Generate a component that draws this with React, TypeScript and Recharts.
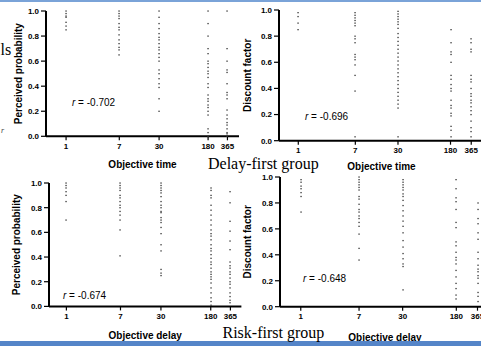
import { ScatterChart, Scatter, XAxis, YAxis, Label } from "recharts"

// objective time / delay in days
const days = [1, 7, 30, 180, 365]
const yTicks = [0, 0.2, 0.4, 0.6, 0.8, 1.0]

// delay-first group, perceived probability (one list per day)
const delayFirstProb = [
    [1.0, 0.98, 0.96, 0.95, 0.91, 0.88, 0.85],
    [1.0, 0.98, 0.96, 0.94, 0.9, 0.87, 0.85, 0.81, 0.77, 0.74, 0.71, 0.69, 0.65],
    [1.0, 0.95, 0.9, 0.86, 0.82, 0.79, 0.77, 0.74, 0.71, 0.69, 0.66, 0.63, 0.6, 0.53, 0.5, 0.46, 0.42, 0.39, 0.3, 0.2],
    [1.0, 0.9, 0.8, 0.7, 0.66, 0.6, 0.58, 0.55, 0.52, 0.5, 0.47, 0.42, 0.39, 0.33, 0.3, 0.28, 0.25, 0.23, 0.2, 0.17, 0.06, 0.03, 0.0],
    [1.0, 0.7, 0.6, 0.53, 0.51, 0.42, 0.35, 0.33, 0.3, 0.21, 0.17, 0.14, 0.11, 0.09, 0.06, 0.03, 0.02, 0.0],
]

// delay-first group, discount factor
const delayFirstDiscount = [
    [0.98, 0.95, 0.9, 0.85],
    [0.98, 0.96, 0.94, 0.92, 0.9, 0.88, 0.8, 0.78, 0.75, 0.66, 0.64, 0.62, 0.58, 0.5, 0.38, 0.03],
    [0.99, 0.97, 0.95, 0.93, 0.91, 0.89, 0.86, 0.82, 0.79, 0.76, 0.73, 0.7, 0.67, 0.64, 0.61, 0.58, 0.55, 0.52, 0.49, 0.46, 0.43, 0.4, 0.37, 0.34, 0.31, 0.28, 0.25, 0.03],
    [0.85, 0.75, 0.68, 0.66, 0.6, 0.5, 0.47, 0.43, 0.4, 0.38, 0.31, 0.27, 0.25, 0.21, 0.19, 0.11, 0.08, 0.03],
    [0.78, 0.75, 0.7, 0.68, 0.5, 0.47, 0.45, 0.4, 0.36, 0.34, 0.31, 0.29, 0.26, 0.23, 0.2, 0.15, 0.1, 0.07, 0.03],
]

// risk-first group, perceived probability
const riskFirstProb = [
    [1.0, 0.98, 0.96, 0.93, 0.9, 0.85, 0.7],
    [1.0, 0.98, 0.96, 0.94, 0.9, 0.88, 0.85, 0.82, 0.8, 0.77, 0.74, 0.7, 0.62, 0.41],
    [1.0, 0.98, 0.96, 0.94, 0.92, 0.89, 0.85, 0.82, 0.8, 0.77, 0.76, 0.72, 0.7, 0.68, 0.64, 0.59, 0.5, 0.45, 0.3, 0.27, 0.25],
    [0.96, 0.94, 0.9, 0.88, 0.82, 0.78, 0.74, 0.7, 0.66, 0.62, 0.59, 0.57, 0.54, 0.5, 0.47, 0.45, 0.42, 0.39, 0.36, 0.34, 0.31, 0.28, 0.26, 0.24, 0.22, 0.19, 0.15, 0.11, 0.07, 0.04, 0.01],
    [0.93, 0.84, 0.69, 0.61, 0.53, 0.46, 0.36, 0.33, 0.31, 0.28, 0.26, 0.23, 0.2, 0.18, 0.15, 0.11, 0.08, 0.05, 0.03],
]

// risk-first group, discount factor
const riskFirstDiscount = [
    [0.98, 0.96, 0.93, 0.91, 0.88, 0.85, 0.73],
    [1.0, 0.98, 0.96, 0.94, 0.92, 0.9, 0.85, 0.83, 0.79, 0.75, 0.73, 0.7, 0.68, 0.65, 0.62, 0.56, 0.45, 0.36],
    [0.98, 0.96, 0.94, 0.92, 0.9, 0.87, 0.85, 0.82, 0.78, 0.74, 0.7, 0.66, 0.62, 0.57, 0.51, 0.46, 0.41, 0.37, 0.33, 0.31, 0.13],
    [0.98, 0.91, 0.84, 0.81, 0.75, 0.65, 0.61, 0.5, 0.47, 0.42, 0.38, 0.36, 0.33, 0.28, 0.23, 0.18, 0.14, 0.09, 0.06],
    [0.8, 0.75, 0.68, 0.64, 0.57, 0.52, 0.42, 0.37, 0.32, 0.29, 0.27, 0.24, 0.22, 0.18, 0.11, 0.08, 0.04],
]

const FONT = '"Liberation Sans", Arial, sans-serif'
const SERIF = '"Liberation Serif", "Times New Roman", serif'

const toPoints = (cols: number[][]) =>
    cols.flatMap((col, i) => col.map(y => ({ x: days[i], y })))

function Dot(props: any) {
    const { cx, cy } = props
    return <rect x={Math.round(cx) - 0.6} y={cy - 0.6} width={1.3} height={1.3} fill="#333" />
}

interface PanelProps {
    cols: number[][]
    xTitle: string
    yTitle: string
    left: number
    right: number
    top: number
    bottom: number
    domain: [number, number]
    xTitleY: number
    yTitleX: number
}

const AXIS_W = 40
const XAXIS_H = 36
const M_TOP = 4

function Panel({ cols, xTitle, yTitle, left, right, top, bottom, domain, xTitleY, yTitleX }: PanelProps) {
    const width = AXIS_W + right - left
    const height = M_TOP + bottom - top + XAXIS_H
    const chartLeft = left - AXIS_W
    const tickStyle = { fill: "#000", fontSize: 8, fontWeight: 700, fontFamily: FONT }
    const titleStyle = { fill: "#000", fontSize: 10, fontWeight: 700, fontFamily: FONT }
    return (
        <div style={{ position: "absolute", left: chartLeft, top: top - M_TOP }}>
            <ScatterChart width={width} height={height} margin={{ top: M_TOP, right: 0, bottom: 0, left: 0 }}>
                <XAxis
                    type="number"
                    dataKey="x"
                    scale="log"
                    domain={domain}
                    ticks={days}
                    interval={0}
                    allowDataOverflow
                    height={XAXIS_H}
                    axisLine={{ stroke: "#000", strokeWidth: 2 }}
                    tickLine={{ stroke: "#000", strokeWidth: 1.2 }}
                    tickSize={4}
                    tickMargin={3}
                    tick={tickStyle}
                >
                    <Label
                        value={xTitle}
                        position="insideBottom"
                        offset={bottom + XAXIS_H - (xTitleY + 3.6)}
                        style={titleStyle}
                    />
                </XAxis>
                <YAxis
                    type="number"
                    dataKey="y"
                    domain={[0, 1]}
                    ticks={yTicks}
                    interval={0}
                    width={AXIS_W}
                    tickFormatter={(v: number) => v.toFixed(1)}
                    axisLine={{ stroke: "#000", strokeWidth: 2 }}
                    tickLine={{ stroke: "#000", strokeWidth: 1.2 }}
                    tickSize={5}
                    tickMargin={2}
                    tick={tickStyle}
                >
                    <Label
                        value={yTitle}
                        angle={-90}
                        position="insideLeft"
                        offset={yTitleX - chartLeft}
                        style={{ ...titleStyle, textAnchor: "middle" }}
                    />
                </YAxis>
                <Scatter data={toPoints(cols)} dataKey="y" shape={Dot} isAnimationActive={false} />
            </ScatterChart>
        </div>
    )
}

function RText({ x, y, value }: { x: number; y: number; value: string }) {
    return (
        <text x={x} y={y} fontFamily={FONT} fontSize={10} fill="#000">
            <tspan fontStyle="italic">r</tspan> = {value}
        </text>
    )
}

export default function App() {
    return (
        <div style={{ position: "absolute", left: 0, top: 0, width: 481, height: 346, background: "#fff", overflow: "hidden" }}>
            <Panel cols={delayFirstProb} xTitle="Objective time" yTitle="Perceived probability"
                left={46} right={239} top={10.7} bottom={136} domain={[0.48, 557]} xTitleY={164} yTitleX={18} />
            <Panel cols={delayFirstDiscount} xTitle="Objective time" yTitle="Discount factor"
                left={279} right={484} top={10} bottom={140.7} domain={[0.518, 564]} xTitleY={166} yTitleX={247} />
            <Panel cols={riskFirstProb} xTitle="Objective delay" yTitle="Perceived probability"
                left={49.3} right={241.7} top={183.3} bottom={306.7} domain={[0.535, 542]} xTitleY={336} yTitleX={17} />
            <Panel cols={riskFirstDiscount} xTitle="Objective delay" yTitle="Discount factor"
                left={280} right={490} top={177} bottom={306.7} domain={[0.5, 554]} xTitleY={337} yTitleX={247} />
            <svg width={481} height={346} style={{ position: "absolute", left: 0, top: 0, pointerEvents: "none" }}>
                <rect x={0} y={0} width={481} height={2} fill="#7aa3d8" />
                <rect x={0} y={341} width={481} height={5} fill="#5585c8" />
                <text x={0.5} y={55} fontFamily={SERIF} fontSize={16} fill="#000">ls</text>
                <text x={1} y={133} fontFamily={SERIF} fontSize={8} fontStyle="italic" fill="#444">r</text>
                <text x={208} y={169} fontFamily={SERIF} fontSize={16} fill="#000">Delay-first group</text>
                <text x={222.5} y={338} fontFamily={SERIF} fontSize={16} fill="#000">Risk-first group</text>
                <RText x={72} y={105.5} value="-0.702" />
                <RText x={305} y={120} value="-0.696" />
                <RText x={63} y={298.5} value="-0.674" />
                <RText x={303} y={281.5} value="-0.648" />
            </svg>
        </div>
    )
}
